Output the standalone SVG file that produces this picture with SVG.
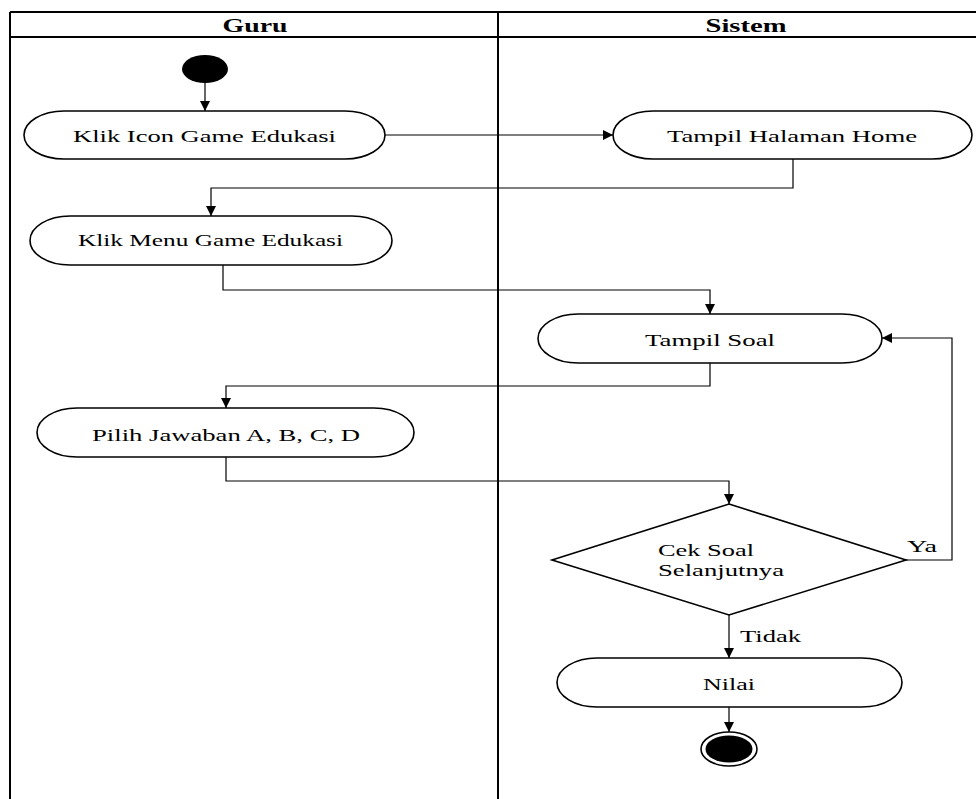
<svg xmlns="http://www.w3.org/2000/svg" width="976" height="799" viewBox="0 0 976 799">
<defs>
<marker id="arr" viewBox="0 0 10 10" refX="10" refY="5" markerWidth="13" markerHeight="10" markerUnits="userSpaceOnUse" orient="auto">
<path d="M0,0 L10,5 L0,10 Z" fill="#000"/>
</marker>
</defs>
<style>
.lane{fill:none;stroke:#000;stroke-width:2}
.hdr{font-family:"Liberation Serif","Times New Roman",serif;font-weight:bold;font-size:19px;text-anchor:middle;fill:#000}
.act{fill:#fff;stroke:#000;stroke-width:1.6}
.lbl{font-family:"Liberation Serif","Times New Roman",serif;font-size:17px;fill:#000}
.mid{text-anchor:middle}
.conn{fill:none;stroke:#000;stroke-width:1.2;marker-end:url(#arr)}
</style>
<rect width="976" height="799" fill="#fff"/>
<g id="lanes">
<line class="lane" x1="10" y1="12" x2="976" y2="12"/>
<line class="lane" x1="10" y1="37" x2="976" y2="37"/>
<line class="lane" x1="10" y1="12" x2="10" y2="799"/>
<line class="lane" x1="498" y1="12" x2="498" y2="799"/>
<text class="hdr" x="255" y="32" textLength="65" lengthAdjust="spacingAndGlyphs">Guru</text>
<text class="hdr" x="746" y="32" textLength="81" lengthAdjust="spacingAndGlyphs">Sistem</text>
</g>
<g id="connectors">
<line class="conn" x1="205" y1="83" x2="205" y2="111"/>
<line class="conn" x1="385" y1="135" x2="613" y2="135"/>
<polyline class="conn" points="793,159 793,188 211,188 211,216"/>
<polyline class="conn" points="223,265 223,290 710,290 710,314"/>
<polyline class="conn" points="710,363 710,386 226,386 226,408"/>
<polyline class="conn" points="226,457 226,481 729,481 729,504"/>
<polyline class="conn" points="906,560 952,560 952,338 882,338"/>
<line class="conn" x1="729" y1="615" x2="729" y2="658"/>
<line class="conn" x1="729" y1="707" x2="729" y2="732"/>
<text class="lbl" x="907" y="552" textLength="30" lengthAdjust="spacingAndGlyphs">Ya</text>
<text class="lbl" x="740" y="642" textLength="61" lengthAdjust="spacingAndGlyphs">Tidak</text>
</g>
<g id="start">
<ellipse cx="205" cy="69" rx="23" ry="14" fill="#000"/>
</g>
<g id="klik-icon">
<rect class="act" x="24" y="111" width="361" height="48" rx="40" ry="24"/>
<text class="lbl mid" x="204.5" y="142" textLength="263" lengthAdjust="spacingAndGlyphs">Klik Icon Game Edukasi</text>
</g>
<g id="tampil-home">
<rect class="act" x="613" y="111" width="359" height="48" rx="40" ry="24"/>
<text class="lbl mid" x="792" y="142" textLength="250" lengthAdjust="spacingAndGlyphs">Tampil Halaman Home</text>
</g>
<g id="klik-menu">
<rect class="act" x="30" y="216" width="362" height="49" rx="40" ry="24.5"/>
<text class="lbl mid" x="210.5" y="246" textLength="265" lengthAdjust="spacingAndGlyphs">Klik Menu Game Edukasi</text>
</g>
<g id="tampil-soal">
<rect class="act" x="538" y="314" width="344" height="49" rx="40" ry="24.5"/>
<text class="lbl mid" x="710" y="346" textLength="130" lengthAdjust="spacingAndGlyphs">Tampil Soal</text>
</g>
<g id="pilih-jawaban">
<rect class="act" x="37" y="408" width="377" height="49" rx="40" ry="24.5"/>
<text class="lbl mid" x="226" y="441" textLength="268" lengthAdjust="spacingAndGlyphs">Pilih Jawaban A, B, C, D</text>
</g>
<g id="cek-soal">
<polygon class="act" points="729,504 906,560 729,615 552,560"/>
<text class="lbl" x="658" y="556" textLength="96" lengthAdjust="spacingAndGlyphs">Cek Soal</text>
<text class="lbl" x="658" y="576" textLength="126" lengthAdjust="spacingAndGlyphs">Selanjutnya</text>
</g>
<g id="nilai">
<rect class="act" x="557" y="658" width="345" height="49" rx="40" ry="24.5"/>
<text class="lbl mid" x="729" y="690" textLength="52" lengthAdjust="spacingAndGlyphs">Nilai</text>
</g>
<g id="end">
<ellipse cx="729" cy="749" rx="28" ry="17" fill="#fff" stroke="#000" stroke-width="1.6"/>
<ellipse cx="729" cy="749" rx="23.5" ry="13.5" fill="#000"/>
</g>
</svg>
